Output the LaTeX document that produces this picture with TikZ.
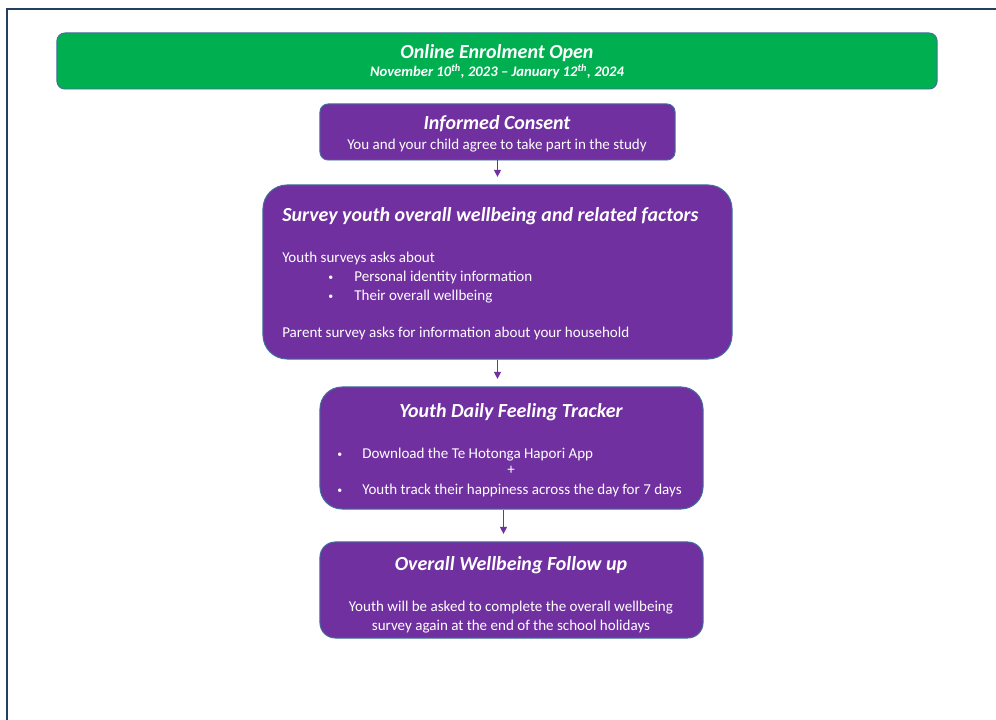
\documentclass[tikz,border=0pt]{standalone}
\usepackage{fontspec}
\setmainfont{Carlito}
\usetikzlibrary{arrows.meta}

\definecolor{frameblue}{HTML}{243F60}
\definecolor{edgeblue}{HTML}{41719C}
\definecolor{enrolgreen}{HTML}{00B050}
\definecolor{stagepurple}{HTML}{7030A0}

\newcommand{\dotitem}[1]{\makebox[#1][l]{\raisebox{0.25ex}{\fontsize{7}{8}\selectfont\textbullet}}}

\tikzset{
  stage/.style={draw=edgeblue, line width=0.7pt, fill=stagepurple, rounded corners=#1, inner sep=0pt},
  head/.style={text=white, font=\bfseries\itshape\fontsize{14.2}{16}\selectfont, inner sep=0pt, yshift=-0.04cm},
  body/.style={text=white, font=\fontsize{10.7}{12}\selectfont, inner sep=0pt, yshift=-0.04cm},
  flow/.style={draw=stagepurple, line width=0.8pt, shorten >=0.19cm, -{Triangle[width=5pt,length=5pt]}},
}

\begin{document}
\begin{tikzpicture}[x=0.025cm, y=-0.025cm]
\useasboundingbox (0,0) rectangle (996,720);
\draw[frameblue, line width=2pt] (7,720) -- (7,9) -- (996,9);

% the boxes
\node[stage=0.2cm, fill=enrolgreen, minimum width=22cm, minimum height=1.4cm] (enrol) at (497,61) {};
\node[stage=0.2cm, minimum width=8.875cm, minimum height=1.4cm] (consent) at (497.5,132) {};
\node[stage=0.6cm, minimum width=11.725cm, minimum height=4.35cm] (survey) at (497.5,272) {};
\node[stage=0.55cm, minimum width=9.575cm, minimum height=3.05cm] (tracker) at (511.5,448) {};
\node[stage=0.38cm, minimum width=9.575cm, minimum height=2.4cm] (followup) at (511.5,590) {};

% enrolment
\node[head, anchor=mid] (enroltitle) at (497,54) {Online Enrolment Open};
\node[head, font=\bfseries\itshape\fontsize{10.4}{12}\selectfont, anchor=mid] (enroldates) at (497,72) {November 10\textsuperscript{th}, 2023 -- January 12\textsuperscript{th}, 2024};

% consent
\node[head, anchor=mid] (consenttitle) at (497,125) {Informed Consent};
\node[body, anchor=mid] (consenttext) at (497,145) {You and your child agree to take part in the study};

% survey
\node[head, anchor=mid west] (surveytitle) at (282,217) {Survey youth overall wellbeing and related factors};
\node[body, anchor=mid west] (surveyask) at (282,258) {Youth surveys asks about};
\node[body, anchor=mid west] (surveyitema) at (328,277) {\dotitem{0.65cm}Personal identity information};
\node[body, anchor=mid west] (surveyitemb) at (328,296) {\dotitem{0.65cm}Their overall wellbeing};
\node[body, anchor=mid west] (surveyparent) at (282,333) {Parent survey asks for information about your household};

% tracker
\node[head, anchor=mid] (trackertitle) at (511,413) {Youth Daily Feeling Tracker};
\node[body, anchor=mid west] (trackeritema) at (337,454) {\dotitem{0.625cm}Download the Te Hotonga Hapori App};
\node[body, anchor=mid] (trackerplus) at (511,470) {+};
\node[body, anchor=mid west] (trackeritemb) at (337,490) {\dotitem{0.625cm}Youth track their happiness across the day for 7 days};

% follow up
\node[head, anchor=mid] (followtitle) at (511,566) {Overall Wellbeing Follow up};
\node[body, anchor=mid] (followtexta) at (511,607) {Youth will be asked to complete the overall wellbeing};
\node[body, anchor=mid] (followtextb) at (511,626) {survey again at the end of the school holidays};

\draw[flow] (consent.south) -- (survey.north);
\draw[flow] (survey.south) -- (survey.south |- tracker.north);
\draw[flow] ([xshift=-0.2cm]tracker.south) -- ([xshift=-0.2cm]followup.north);
\end{tikzpicture}
\end{document}
